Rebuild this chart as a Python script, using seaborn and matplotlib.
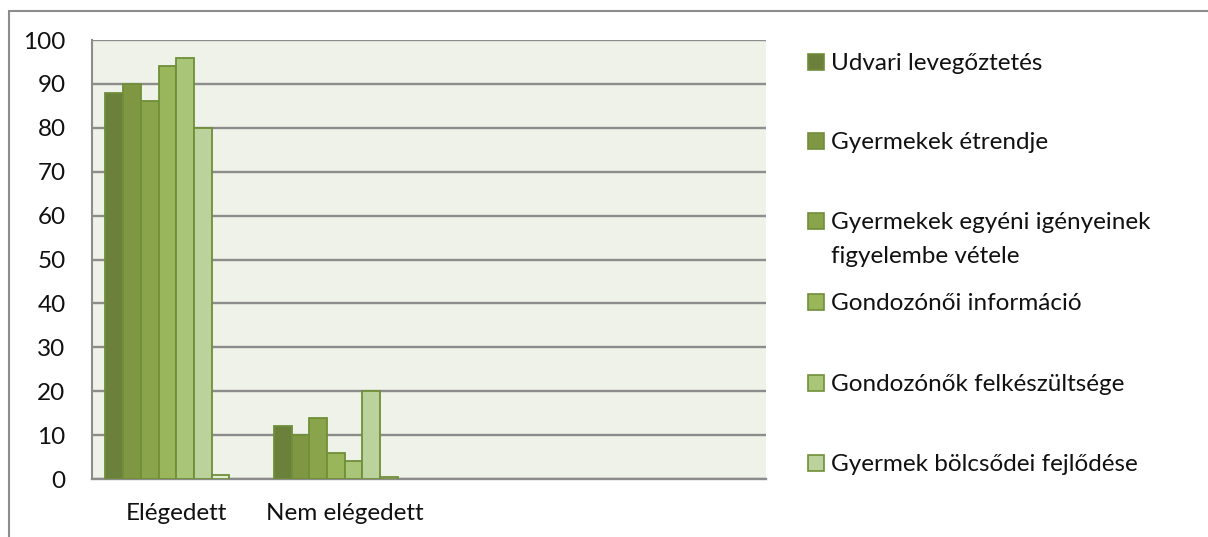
import numpy as np
import pandas as pd
import matplotlib
matplotlib.use("Agg")
import matplotlib.pyplot as plt
from matplotlib.patches import Rectangle
from matplotlib.lines import Line2D
import seaborn as sns

# Categories on the x axis (the last two slots are left blank)
categories = ["Elégedett", "Nem elégedett", "", " "]

# Series names shown in the legend
series = [
    "Udvari levegőztetés",
    "Gyermekek étrendje",
    "Gyermekek egyéni igényeinek\nfigyelembe vétele",
    "Gondozónői információ",
    "Gondozónők felkészültsége",
    "Gyermek bölcsődei fejlődése",
]
# Two further series without a legend entry
extra_series = ["Egyéb", "Nincs válasz"]

# Percentages per series for "Elégedett" / "Nem elégedett"
udvari = [88, 12]
etrend = [90, 10]
egyeni = [86, 14]
informacio = [94, 6]
felkeszultseg = [96, 4]
fejlodes = [80, 20]
egyeb = [1, 0.5]

yticks = [0, 10, 20, 30, 40, 50, 60, 70, 80, 90, 100]

colors = ["#6B803A", "#7F9643", "#8AA44B", "#99B75A", "#A9C577", "#BCD29C",
          "#E3ECD4", "#F2F5EC"]
edge = "#6F8F38"
FS = 17.5

values = [udvari, etrend, egyeni, informacio, felkeszultseg, fejlodes, egyeb]
names = series + extra_series
rows = []
for name, vals in zip(names, values):
    for cat, v in zip(categories[:2], vals):
        rows.append({"category": cat, "series": name, "value": v})
df = pd.DataFrame(rows)

sns.set_theme(style="white")
plt.rcParams["font.family"] = ["Lato", "DejaVu Sans"]

fig = plt.figure(figsize=(12.08, 5.37), dpi=100)
ax = fig.add_axes([92 / 1208, 1 - 479 / 537, (766 - 92) / 1208, (479 - 40) / 537])
ax.set_facecolor("#EFF2E8")

sns.barplot(data=df, x="category", y="value", hue="series",
            order=categories, hue_order=names, palette=colors,
            width=8 / 9.5, edgecolor=edge, linewidth=1.3,
            saturation=1, legend=False, ax=ax, zorder=3)

ax.set_ylim(0, 100)
ax.set_xlim(-0.5, len(categories) - 0.5)
ax.set_yticks(yticks)
ax.set_yticklabels([str(t) for t in yticks], fontsize=FS, color="#111111")
ax.set_xticks(range(len(categories)))
ax.set_xticklabels(categories, fontsize=FS, color="#111111")
ax.tick_params(axis="y", length=0, pad=19)
ax.tick_params(axis="x", length=0, pad=17)
ax.set_xlabel("")
ax.set_ylabel("")

ax.yaxis.grid(True, color="#8C8C8C", linewidth=1.7, zorder=1)
ax.set_axisbelow(True)
for side in ["top", "right"]:
    ax.spines[side].set_visible(False)
ax.spines["left"].set_color("#8C8C8C")
ax.spines["left"].set_linewidth(1.5)
ax.spines["bottom"].set_color("#8C8C8C")
ax.spines["bottom"].set_linewidth(1.7)

# Legend: square markers with labels, wrapped lines listed below the first
W, H = 1208, 537
centers = [62, 141, 221, 302, 383, 463]
for name, col, cy in zip(series, colors, centers):
    fig.patches.append(Rectangle(((808) / W, 1 - (cy + 8) / H), 16 / W, 16 / H,
                                 transform=fig.transFigure, facecolor=col,
                                 edgecolor=edge, linewidth=1.2))
    for i, line in enumerate(name.split("\n")):
        fig.text(831 / W, 1 - (cy + 8 + 34 * i) / H, line, fontsize=FS,
                 color="#111111", va="baseline", ha="left")

# Chart frame
fig.add_artist(Line2D([9 / W, 1], [1 - 11 / H, 1 - 11 / H], transform=fig.transFigure,
                      color="#8C8C8C", linewidth=1.5))
fig.add_artist(Line2D([9 / W, 9 / W], [0, 1 - 11 / H], transform=fig.transFigure,
                      color="#8C8C8C", linewidth=1.5))

fig.savefig("out.png", dpi=100, facecolor="white")
